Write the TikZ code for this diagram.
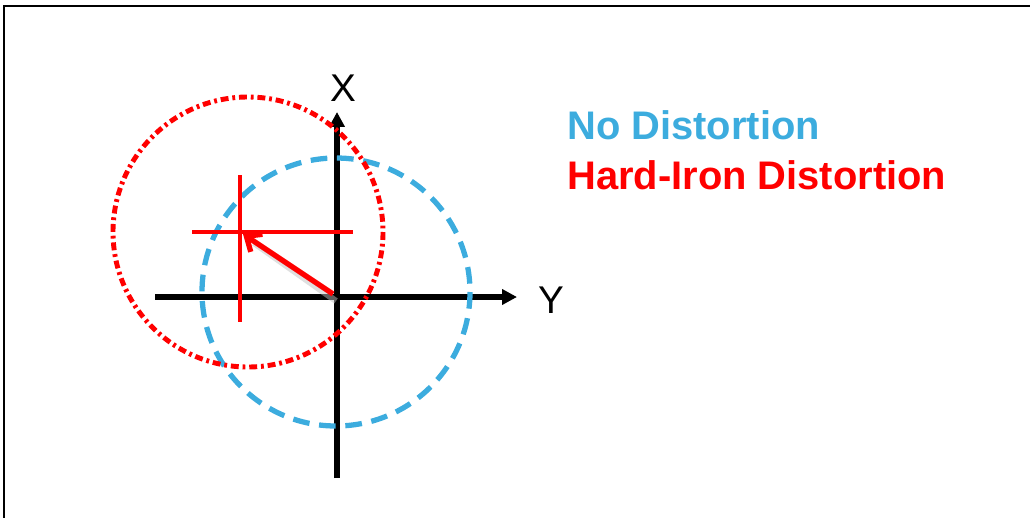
\documentclass[tikz,border=0pt]{standalone}
\usepackage{fontspec}
\setmainfont{Liberation Sans}
\usetikzlibrary{arrows.meta,positioning,calc}
\definecolor{nodist}{RGB}{60,172,222}
\definecolor{hardiron}{RGB}{255,0,0}
\tikzset{axis/.style={line width=3.4pt, -{Triangle[length=8.5pt,width=8.5pt]}},
    hardcircle/.style={hardiron, line width=2.8pt, dash pattern=on 4.5pt off 2.2pt on 1.6pt off 2.2pt},
    nodistcircle/.style={nodist, line width=3pt, dash pattern=on 9.5pt off 5.5pt}
}
\tikzstyle{axislabel} = [inner sep=0pt, font=\fontsize{22}{26}\selectfont]
\tikzstyle{legend} = [anchor=base west, inner sep=0pt, font=\bfseries\fontsize{22.7}{27}\selectfont]

\begin{document}
\begin{tikzpicture}[x=0.02cm, y=-0.02cm]
    \useasboundingbox (0,0) rectangle (1030,517);
    \clip (0,0) rectangle (1030,517);
    \draw [line width=1.2pt] (4,6) rectangle (1100,600);

    % axes
    \coordinate (o) at (337,297);
    \coordinate (yneg) at (155,297);
    \coordinate (ypos) at (517,297);
    \coordinate (xneg) at (337,478);
    \coordinate (xpos) at (337,112);
    \draw [axis] (yneg) -- (ypos);
    \draw [axis] (xneg) -- (xpos);
    \node [axislabel] (xlab) at (343,88) {X};
    \node [axislabel] (ylab) at (551,300) {Y};

    % circles
    \coordinate (nc) at (336,292);
    \coordinate (hc) at (248,232);
    \draw [nodistcircle] (nc) circle [radius=134];
    \draw [hardcircle] (hc) circle [radius=135];

    % offset cross
    \coordinate (hi) at (240,232);
    \draw [hardiron, line width=2pt] ($(hi)+(0,-57)$) -- ($(hi)+(0,90)$);
    \draw [hardiron, line width=2pt] ($(hi)+(-48,0)$) -- ($(hi)+(113,0)$);
    \draw [black!25, opacity=0.5, line width=3.5pt] ($(o)+(-1,4)$) -- ($(hi)+(14,11)$);
    \draw [hardiron, line width=3pt, -{Straight Barb[length=7pt,width=12pt]}] ($(o)+(-4,-3)$) -- ($(hi)+(3,2)$);

    % legend
    \node [legend, text=nodist] (nodisttext) at (567,139) {No Distortion};
    \node [legend, text=hardiron] (hardtext) at (567,189) {Hard-Iron Distortion};
\end{tikzpicture}
\end{document}
